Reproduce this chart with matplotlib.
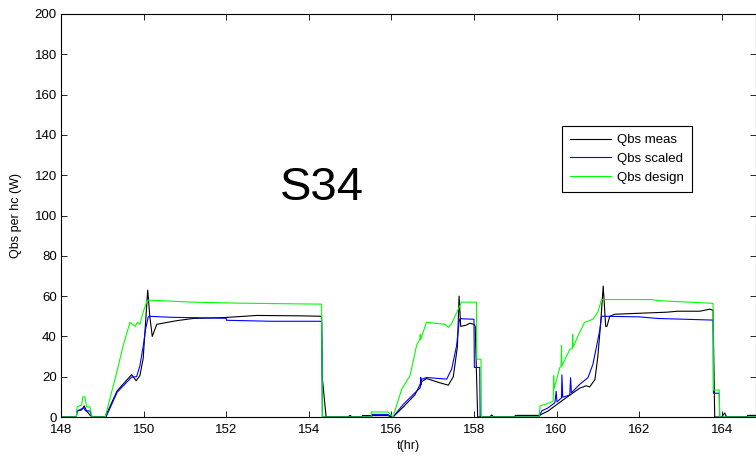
import matplotlib
matplotlib.use("Agg")
import matplotlib.pyplot as plt

plt.rcParams['font.family'] = ['Liberation Sans', 'DejaVu Sans']

# measured heat per heating coil
t_meas = [148.0, 148.37, 148.39, 148.5, 148.56, 148.62, 148.70, 148.75, 149.07, 149.36,
          149.71, 149.82, 149.91, 149.99, 150.10, 150.15, 150.21, 150.32, 150.8, 151.2,
          152.0, 152.74, 153.79, 154.31, 154.33, 154.42, 154.95, 155.0, 155.05, 155.28,
          155.3, 155.9, 156.04, 156.29, 156.57, 156.73, 156.85, 157.17, 157.38, 157.5,
          157.6, 157.64, 157.68, 157.8, 157.9, 158.0, 158.03, 158.09, 158.38, 158.43,
          158.48, 158.99, 159.0, 159.55, 159.6, 159.8, 159.96, 160.16, 160.56, 160.72,
          160.8, 160.93, 161.0, 161.07, 161.13, 161.19, 161.22, 161.29, 161.41, 162.02,
          162.66, 162.94, 163.47, 163.71, 163.79, 163.83, 164.0, 164.07, 164.12, 164.6,
          164.63, 165.0]
q_meas = [0, 0, 3, 3.5, 5.5, 3, 1, 0, 0, 13,
          21, 18, 20.5, 29, 63, 50, 40, 46, 47.8, 48.9,
          49.4, 50.4, 50.2, 50, 19, 0, 0, 0.8, 0, 0,
          0.7, 0.7, 0, 5, 11, 17.5, 19.1, 17, 15.8, 20,
          35, 60, 45, 45.5, 46.5, 46, 45, 0, 0, 1,
          0, 0, 0.8, 0.8, 1, 3, 5.5, 8.5, 14.3, 15.5,
          14.9, 18.6, 30, 47, 65, 45, 45, 50, 51, 51.5,
          52, 52.5, 52.5, 53.5, 53, 0, 0, 2, 0, 0,
          0.8, 0.8]

# scaled model
t_scaled = [148.0, 148.37, 148.39, 148.55, 148.6, 148.70, 148.75, 149.09, 149.36, 149.71,
            149.83, 149.91, 149.99, 150.05, 150.11, 150.13, 150.64, 152.0, 152.01, 153.1,
            154.31, 154.33, 155.52, 155.53, 155.9, 156.04, 156.29, 156.57, 156.70, 156.71,
            156.72, 156.73, 156.85, 157.34, 157.46, 157.58, 157.64, 157.66, 158.0, 158.01,
            158.14, 158.15, 159.58, 159.6, 159.64, 159.8, 159.96, 159.99, 160.01, 160.12,
            160.13, 160.15, 160.32, 160.34, 160.36, 160.56, 160.76, 160.88, 160.97, 161.05,
            161.09, 162.0, 162.45, 163.79, 163.80, 163.94, 163.95, 165.0]
q_scaled = [0, 0, 3, 4.5, 3, 3, 0, 0, 12.3, 19.8,
            20, 25.4, 35, 43.7, 49.5, 50, 49.5, 49, 48, 47.5,
            47.5, 0, 0, 1.3, 1.3, 0, 6.3, 12, 14.5, 19.7,
            16, 18.7, 19.6, 18.8, 23.8, 35.4, 47, 48.8, 48.5, 24.6,
            24.6, 0, 0, 0.8, 3, 4.6, 7.1, 12.8, 7.5, 9.5,
            20.9, 9.8, 10.9, 19.5, 12, 16.2, 19.5, 26.1, 35.2, 43.5,
            50, 49.7, 48.9, 48.1, 11.8, 11.8, 0, 0]

# design model
t_design = [148.0, 148.37, 148.39, 148.5, 148.53, 148.58, 148.62, 148.70, 148.75, 149.07,
            149.36, 149.5, 149.67, 149.8, 149.85, 149.91, 149.99, 150.08, 150.11, 151.2,
            152.3, 154.31, 154.33, 155.51, 155.52, 155.92, 156.04, 156.25, 156.45, 156.61,
            156.69, 156.70, 156.71, 156.85, 157.3, 157.38, 157.45, 157.7, 158.06, 158.07,
            158.17, 158.18, 159.58, 159.6, 159.84, 159.92, 159.93, 159.94, 160.08, 160.11,
            160.12, 160.13, 160.32, 160.38, 160.39, 160.40, 160.56, 160.68, 160.88, 161.0,
            161.09, 162.28, 162.5, 163.5, 163.79, 163.80, 163.94, 163.95, 165.0]
q_design = [0, 0, 5, 6, 10, 10, 5, 5, 0, 0,
            23, 35, 47, 45, 47, 46, 52, 57.5, 58, 57,
            56.5, 56, 0, 0, 2.5, 2.5, 0, 13.8, 20.5, 35.4,
            38.7, 41, 38.5, 47, 46, 44.5, 46, 57, 57, 28.7,
            28.7, 0, 0, 5.5, 7.1, 8, 20.5, 14, 24.6, 25,
            35.6, 25.3, 33.5, 34, 41, 34.7, 42, 47, 48.5, 52,
            58.3, 58.3, 57.7, 56.7, 56.4, 13.4, 13.4, 0, 0]

labels = ['Qbs meas', 'Qbs scaled', 'Qbs design']

fig = plt.figure(figsize=(7.56, 4.58), dpi=100)
ax = fig.add_axes([61 / 756, 41 / 458, 695 / 756, 403 / 458])

ax.plot(t_meas, q_meas, color='black', lw=0.8, label=labels[0])
ax.plot(t_scaled, q_scaled, color='#0000ff', lw=0.8, label=labels[1])
ax.plot(t_design, q_design, color='#00ff00', lw=0.8, label=labels[2])

ax.set_xlim(148, 164.83)
ax.set_ylim(0, 200)
ax.set_xticks(range(148, 166, 2))
ax.set_yticks(range(0, 201, 20))
ax.tick_params(direction='in', top=True, right=True, length=4, width=0.6,
               labelsize=9.5)
ax.tick_params(axis='x', pad=5)
ax.tick_params(axis='y', pad=3)
for s in ax.spines.values():
    s.set_linewidth(0.8)

ax.set_xlabel('t(hr)', fontsize=9, labelpad=3)
ax.set_ylabel('Qbs per hc (W)', fontsize=9, labelpad=9)

ax.text(154.32, 113.5, 'S34', fontsize=34, ha='center', va='center')

leg = ax.legend(loc='upper left', bbox_to_anchor=(562 / 756, 1 - 126 / 458),
                bbox_transform=fig.transFigure, borderaxespad=0, fontsize=9.5,
                handlelength=3.1, handletextpad=0.45, labelspacing=0.5,
                borderpad=0.6, fancybox=False, framealpha=1)
leg.get_frame().set_edgecolor('black')
leg.get_frame().set_linewidth(0.8)

fig.savefig('out.png', dpi=100)
